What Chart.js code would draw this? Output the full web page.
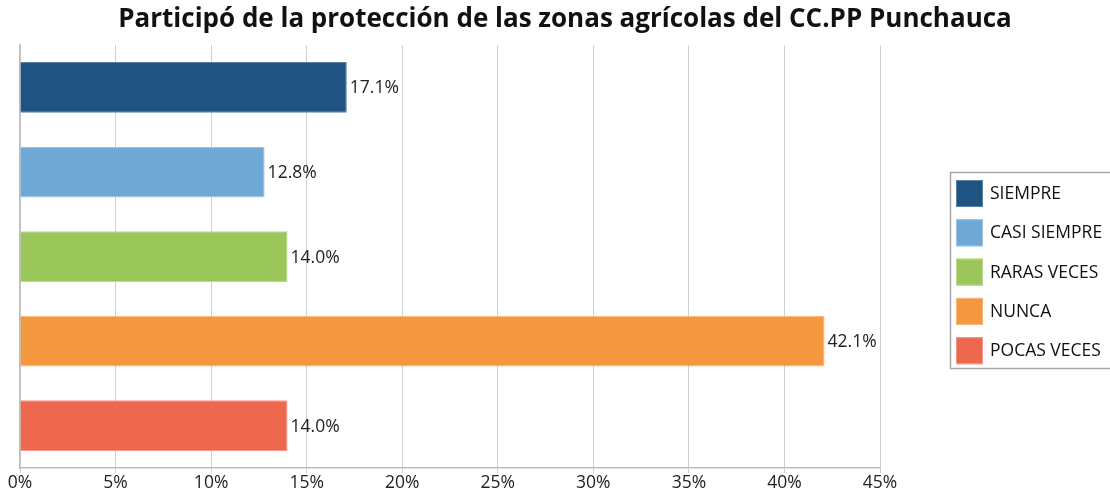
<!DOCTYPE html>
<html>
<head>
<meta charset="utf-8">
<script src="https://cdn.jsdelivr.net/npm/chart.js@4"></script>
<style>
html,body{margin:0;padding:0;background:#fff;}
#wrap{width:1110px;height:494px;position:relative;}
</style>
</head>
<body>
<div id="wrap"><canvas id="c" width="1110" height="494"></canvas></div>
<script>
const titleText = "Participó de la protección de las zonas agrícolas del CC.PP Punchauca";
const categories = ["SIEMPRE", "CASI SIEMPRE", "RARAS VECES", "NUNCA", "POCAS VECES"];
const values = [17.1, 12.8, 14.0, 42.1, 14.0];
const colors = ["#1F5482", "#6FA7D5", "#9BC65A", "#F3983F", "#EE6850"];
const borderColors = ["#5C82A6", "#9CC3E3", "#BBDA8F", "#F7B87B", "#F4998A"];
const xTicks = [0, 5, 10, 15, 20, 25, 30, 35, 40, 45];

const FONT = "'Open Sans', 'Noto Sans', sans-serif";

const valueLabels = {
  id: 'valueLabels',
  afterDatasetsDraw(chart) {
    const ctx = chart.ctx;
    const meta = chart.getDatasetMeta(0);
    ctx.save();
    ctx.font = "17.5px " + FONT;
    ctx.fillStyle = "#222";
    ctx.textAlign = "left";
    ctx.textBaseline = "middle";
    meta.data.forEach((bar, i) => {
      ctx.fillText(values[i].toFixed(1) + "%", bar.x + 3, bar.y + 1);
    });
    ctx.restore();
  }
};

const customLegend = {
  id: 'customLegend',
  afterDraw(chart) {
    const ctx = chart.ctx;
    ctx.save();
    const left = 950.5, top = 172.5, right = 1120, bottom = 368.5;
    ctx.strokeStyle = "#A8A8A8";
    ctx.lineWidth = 1.5;
    ctx.strokeRect(left, top, right - left, bottom - top);
    ctx.font = "17.5px " + FONT;
    ctx.textAlign = "left";
    ctx.textBaseline = "middle";
    categories.forEach((c, i) => {
      const y = 180 + i * 39.3;
      ctx.fillStyle = colors[i];
      ctx.fillRect(956, y, 27, 27);
      ctx.strokeStyle = borderColors[i];
      ctx.lineWidth = 1;
      ctx.strokeRect(956.5, y + 0.5, 26, 26);
      ctx.fillStyle = "#111";
      ctx.fillText(c, 990, y + 14);
    });
    ctx.restore();
  }
};

new Chart(document.getElementById('c'), {
  type: 'bar',
  data: {
    labels: categories,
    datasets: [{
      data: values,
      backgroundColor: colors,
      borderColor: borderColors,
      borderWidth: 1,
      categoryPercentage: 0.6,
      barPercentage: 1.0
    }]
  },
  options: {
    indexAxis: 'y',
    responsive: false,
    animation: false,
    layout: { padding: { left: 20, right: 0, top: 0, bottom: 0 } },
    plugins: {
      legend: { display: false },
      tooltip: { enabled: false },
      title: {
        display: true,
        text: titleText,
        color: "#111",
        font: { family: FONT, size: 26, weight: 'bold' },
        padding: { top: 4, bottom: 10 }
      }
    },
    scales: {
      x: {
        min: 0,
        max: 45,
        afterBuildTicks(axis) { axis.ticks = xTicks.map(v => ({ value: v })); },
        ticks: {
          callback: v => v + "%",
          color: "#222",
          font: { family: FONT, size: 17.5 },
          padding: 0,
          maxRotation: 0
        },
        grid: {
          color: "#CFCFCF",
          lineWidth: 1,
          tickLength: 5,
          drawTicks: true
        },
        border: { display: true, color: "#BDBDBD", width: 1.5 }
      },
      y: {
        offset: true,
        ticks: { display: false },
        grid: { display: false, drawTicks: false },
        border: { display: true, color: "#BDBDBD", width: 1.5 }
      },
      ySpace: {
        type: 'category',
        labels: categories,
        position: 'right',
        display: true,
        ticks: { display: false },
        grid: { display: false, drawTicks: false },
        border: { display: false },
        afterFit(axis) { axis.width = 230; }
      }
    }
  },
  plugins: [valueLabels, customLegend]
});
</script>
</body>
</html>
